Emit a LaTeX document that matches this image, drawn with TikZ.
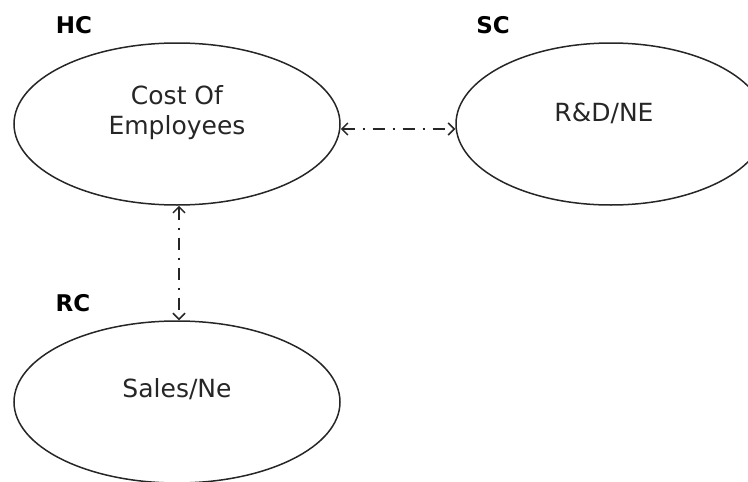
\documentclass[tikz,border=0pt]{standalone}
\usepackage{fontspec}
\setmainfont{DejaVu Sans}
\usetikzlibrary{shapes.geometric,arrows.meta}

\tikzset{
  capital/.style={ellipse, draw=black!85, line width=1.5pt, inner sep=0pt,
    minimum width=#1, minimum height=162pt},
  capital/.default=326pt,
  inner/.style={align=center, font=\fontsize{25pt}{30pt}\selectfont, text=black!85},
  tag/.style={font=\fontsize{23pt}{27pt}\selectfont\bfseries, text=black},
  barb/.tip={Straight Barb[length=6pt,width=12pt,line width=1.5pt]},
  link/.style={line width=1.6pt, draw=black!85,
    dash pattern=on 12pt off 8pt on 2pt off 8pt,
    {barb}-{barb}}
}

\begin{document}
\begin{tikzpicture}[x=1pt,y=-1pt]
  \useasboundingbox (0,0) rectangle (748,482);

  % the three capital components
  \node[capital] (hc) at (177,124) {};
  \node[capital=310pt] (sc) at (611,124) {};
  \node[capital] (rc) at (177,402) {};

  % their contents
  \node[inner] (hct) at (177,113) {Cost Of\\Employees};
  \node[inner] (sct) at (604,113) {R\&D/NE};
  \node[inner] (rct) at (177,389) {Sales/Ne};

  % headings
  \node[tag] (hcl) at (74,25) {HC};
  \node[tag] (scl) at (493,25) {SC};
  \node[tag] (rcl) at (73,303) {RC};

  % relations
  \draw[link] ([yshift=-5pt]hc.east) -- ([yshift=-5pt]sc.west);
  \draw[link] ([xshift=2pt]hc.south) -- ([xshift=2pt]rc.north);
\end{tikzpicture}
\end{document}
